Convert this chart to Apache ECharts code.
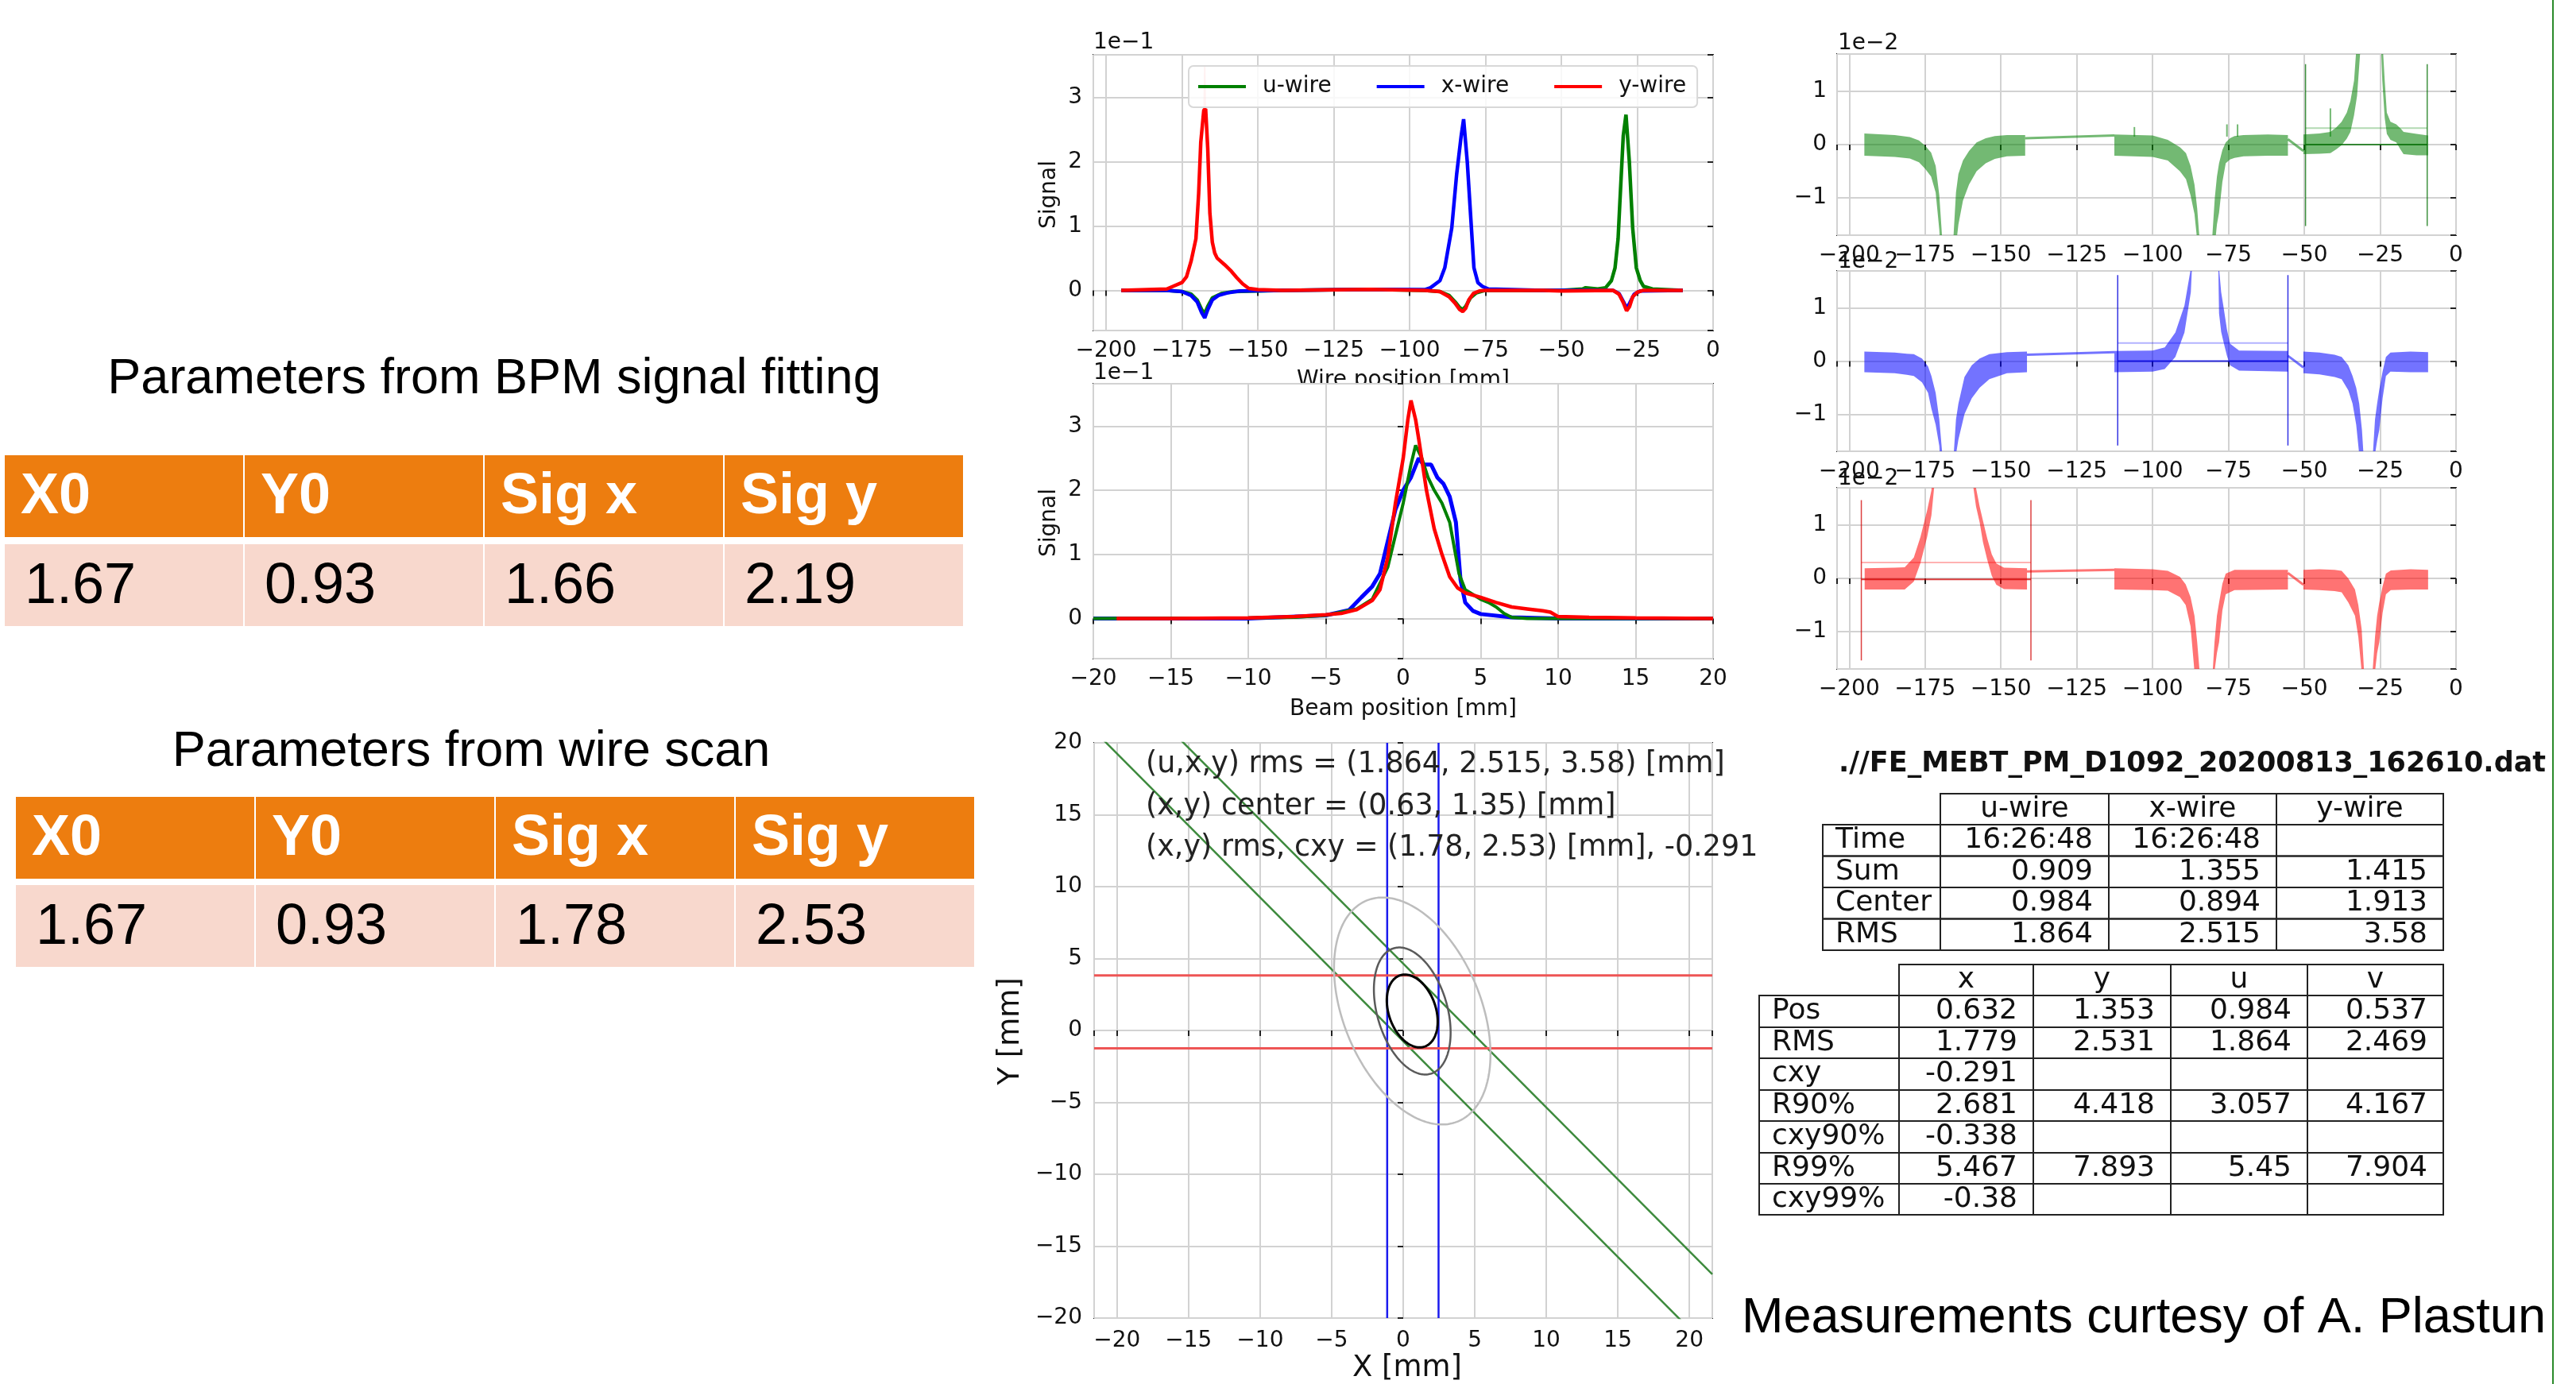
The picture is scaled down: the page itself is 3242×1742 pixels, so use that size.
<!DOCTYPE html>
<html><head><meta charset="utf-8">
<script src="https://cdn.jsdelivr.net/npm/echarts@6/dist/echarts.min.js"></script>
<style>html,body{margin:0;padding:0;background:#fff}#c{width:3242px;height:1742px}</style>
</head><body><div id="c"></div>
<script>
// ---------------- DATA ----------------
// Panel 1: wire signals vs wire position [mm]
const uWireX = [-195,-180,-175,-172,-170,-168.5,-167.5,-166.5,-165,-162,-158,-142,-113,-95,-90,-87,-85,-83.5,-82.5,-81.5,-80,-78,-75,-56,-50,-43,-42,-38,-35.4,-33.5,-32.3,-31.3,-30.7,-29.6,-28.7,-27.6,-26.5,-25.3,-24,-22.9,-20,-10];
const uWireY = [0,0,-0.002,-0.006,-0.015,-0.03,-0.036,-0.025,-0.012,-0.005,-0.002,0,0.0015,0,-0.002,-0.008,-0.018,-0.027,-0.03,-0.025,-0.012,-0.004,0,0,0,0.002,0.004,0.002,0.004,0.015,0.035,0.08,0.138,0.24,0.273,0.2,0.097,0.035,0.015,0.006,0.002,0];
const xWireX = [-195,-180,-175,-172,-170,-168.5,-167.5,-166.5,-165,-163,-160,-156,-142,-113,-95,-93.1,-90,-88.4,-86.1,-84.5,-83,-82.2,-81,-79.9,-78.8,-77.5,-76,-74,-56,-50,-33,-31,-29.5,-28.5,-27.5,-26,-24,-10];
const xWireY = [0,0,-0.002,-0.008,-0.018,-0.035,-0.043,-0.03,-0.015,-0.008,-0.004,-0.001,0,0.0015,0.001,0.004,0.015,0.035,0.097,0.18,0.24,0.266,0.2,0.117,0.035,0.012,0.006,0.002,0,0,0,-0.005,-0.018,-0.028,-0.02,-0.006,-0.001,0];
const yWireX = [-195,-180,-178,-175,-173.5,-172,-170.4,-169.5,-168.8,-167.8,-167.2,-166.5,-165.8,-165,-164.2,-163.4,-161,-159,-157,-155,-153,-150,-142,-113,-95,-90,-87,-85,-83.5,-82.5,-81.5,-80.5,-79,-77,-75,-56,-50,-33,-31,-29.5,-28.5,-27.5,-26.5,-25,-23,-10];
const yWireY = [0,0.002,0.006,0.012,0.021,0.045,0.08,0.15,0.23,0.28,0.282,0.22,0.12,0.075,0.058,0.05,0.04,0.031,0.02,0.01,0.003,0.001,0,0.0015,0,-0.002,-0.01,-0.02,-0.03,-0.033,-0.028,-0.015,-0.005,-0.001,0,0,-0.001,0,-0.006,-0.02,-0.032,-0.025,-0.01,-0.003,0,0];
const yWireSpikeX = [-167.7, -167.5, -167.3];
const yWireSpikeY = [0.28, 0.35, 0.28];

// Panel 2: signals vs beam position [mm]
const beamUX = [-20,-10,-7,-5,-3,-2,-1,-0.5,0,0.5,0.8,1.2,1.6,2,2.5,3,3.3,3.6,4,5,5.5,6,6.5,7,8,20];
const beamUY = [0,0.001,0.002,0.005,0.015,0.03,0.08,0.13,0.18,0.24,0.27,0.25,0.22,0.2,0.18,0.15,0.11,0.07,0.045,0.03,0.025,0.018,0.008,0.002,0,0];
const beamXX = [-20,-10,-5,-3.5,-2.7,-2,-1.5,-1,-0.5,0,0.5,1,1.3,1.8,2.2,2.6,3,3.4,3.7,4,4.5,5,7,10,20];
const beamXY = [0,0,0.005,0.013,0.033,0.05,0.07,0.12,0.17,0.2,0.22,0.25,0.24,0.24,0.22,0.21,0.19,0.15,0.06,0.025,0.012,0.007,0.002,0,0];
const beamYX = [-18.5,-15,-10,-7,-5,-4,-3,-2,-1.5,-1,-0.5,0,0.3,0.5,0.8,1.0,1.5,2,2.5,3,3.5,4,5,6,7,8,9,9.5,10,12,15,20];
const beamYY = [0,0,0.001,0.003,0.006,0.008,0.014,0.028,0.045,0.095,0.18,0.25,0.31,0.34,0.31,0.28,0.2,0.14,0.1,0.065,0.048,0.04,0.033,0.025,0.018,0.015,0.012,0.01,0.003,0.002,0.001,0];

// Panel 3: reconstructed beam ellipses [mm]
const xWirePositions = [-1.12, 2.47];      // vertical lines x = const
const yWirePositions = [3.83, -1.24];      // horizontal lines y = const
const uWireOffsets = [-0.75, 4.65];        // diagonal lines y = -x + c
const ellipseCenter = [0.632, 1.353];
const ellipseRx = [5.467, 2.681, 1.779];
const ellipseRy = [7.893, 4.418, 2.531];
const ellipseCxy = [-0.38, -0.338, -0.291];
const ellipseNotes = ['(u,x,y) rms = (1.864, 2.515, 3.58) [mm]', '(x,y) center = (0.63, 1.35) [mm]', '(x,y) rms, cxy = (1.78, 2.53) [mm], -0.291'];

// Right panels: zoomed signal bands (upper / lower envelope), three scan segments each
const uBandX = [
  [-195,-185,-180,-177,-175,-173,-171.5,-170.3,-169.3,-168.3,-167.3,-166.3,-165.6,-164.8,-164,-162.5,-160.5,-158,-155,-152,-148,-142],
  [-112.6,-100,-95,-91,-89,-87.5,-86.2,-85.3,-84.5,-83.5,-82.3,-81.2,-80.3,-79.5,-78.8,-78.1,-77,-75.9,-74.5,-73,-70,-62,-55.4],
  [-50.3,-45,-41.4,-39.5,-37.7,-36,-34.8,-33.6,-32.6,-31.5,-30,-28.7,-27.3,-25.5,-24.3,-23.5,-22.8,-21.6,-19.7,-18.2,-17.3,-13,-9.2]];
const uBandHi = [
  [0.0021,0.0018,0.0014,0.0008,-0.0002,-0.0015,-0.004,-0.0095,-0.018,-0.03,-0.04,-0.03,-0.017,-0.009,-0.0055,-0.003,-0.0012,0.0004,0.0012,0.0016,0.0018,0.0018],
  [0.0019,0.0017,0.0009,-0.0005,-0.0016,-0.004,-0.0075,-0.012,-0.018,-0.03,-0.04,-0.03,-0.017,-0.01,-0.006,-0.0035,-0.001,0.0004,0.0012,0.0016,0.0018,0.0019,0.0018],
  [0.0019,0.0021,0.0024,0.0032,0.0043,0.006,0.0082,0.012,0.02,0.04,0.12,0.27,0.15,0.05,0.02,0.012,0.006,0.0043,0.0038,0.003,0.0024,0.002,0.0017]];
const uBandLo = [
  [-0.0021,-0.0023,-0.0026,-0.0033,-0.0045,-0.006,-0.009,-0.016,-0.025,-0.036,-0.045,-0.04,-0.03,-0.019,-0.015,-0.0105,-0.0075,-0.005,-0.0035,-0.0027,-0.0022,-0.0021],
  [-0.0021,-0.0023,-0.003,-0.005,-0.0065,-0.0095,-0.013,-0.018,-0.025,-0.036,-0.045,-0.04,-0.03,-0.019,-0.015,-0.0128,-0.007,-0.0035,-0.0028,-0.0025,-0.0022,-0.0021,-0.0021],
  [-0.0018,-0.0017,-0.0016,-0.0009,-0.0001,0.0011,0.0024,0.0055,0.0092,0.018,0.08,0.24,0.12,0.03,0.012,0.005,0.002,0.0009,0.0004,-0.001,-0.0018,-0.002,-0.002]];
const uSpikeX = [-106, -75.5, -72, -41.4];
const uSpikeTop = [0.0033, 0.0038, 0.0038, 0.0068];

const xBandX = [
  [-195,-185,-181,-178.7,-176,-174,-172.9,-171.5,-170.3,-169.3,-168.3,-167.3,-166.3,-165.6,-164.8,-164,-162,-159.6,-157,-153.8,-148,-141.4],
  [-112.6,-100,-96,-92.5,-89.5,-87.4,-86,-84.5,-82.2,-81,-79.8,-78.1,-77.4,-76.7,-75.5,-74.5,-71.5,-55.4],
  [-50.3,-45,-40,-37.7,-35.5,-34.1,-32.9,-31.9,-31,-30,-28.6,-27.4,-26.7,-26,-25.3,-24.2,-23.1,-21.6,-15,-9.2]];
const xBandHi = [
  [0.0018,0.0016,0.0014,0.0013,0.0005,-0.001,-0.0028,-0.006,-0.011,-0.0176,-0.03,-0.04,-0.03,-0.018,-0.011,-0.008,-0.003,-0.0008,0.0005,0.0013,0.0017,0.0018],
  [0.0019,0.002,0.0026,0.0054,0.0105,0.0175,0.04,0.18,0.265,0.2,0.1,0.0175,0.013,0.0105,0.006,0.0033,0.002,0.0019],
  [0.0018,0.0016,0.0012,0.0008,-0.0008,-0.0028,-0.005,-0.008,-0.013,-0.022,-0.032,-0.0175,-0.011,-0.008,-0.0054,-0.002,0.0008,0.0016,0.0018,0.0017]];
const xBandLo = [
  [-0.0021,-0.0023,-0.0026,-0.0028,-0.004,-0.006,-0.009,-0.012,-0.016,-0.025,-0.036,-0.045,-0.04,-0.03,-0.0176,-0.0148,-0.01,-0.007,-0.005,-0.0034,-0.0023,-0.0021],
  [-0.0021,-0.002,-0.0015,0.0008,0.0054,0.013,0.03,0.16,0.24,0.17,0.07,0.009,0.0055,0.0038,0.001,-0.0008,-0.0018,-0.002],
  [-0.0023,-0.0025,-0.003,-0.0034,-0.0055,-0.008,-0.012,-0.0176,-0.025,-0.035,-0.04,-0.03,-0.0176,-0.015,-0.013,-0.007,-0.0028,-0.002,-0.0021,-0.0021]];

const yBandX = [
  [-194.9,-185,-181.7,-178.7,-176.5,-174.3,-172.9,-171.5,-170,-167.5,-165,-163,-161,-158.2,-157,-155.9,-154.5,-153,-151.5,-149,-141.4],
  [-112.6,-100,-95,-91,-89.1,-87.5,-86.2,-85.3,-84.5,-83,-82,-81,-80.2,-79.6,-78.8,-78.1,-77,-75.9,-73,-55.4],
  [-50.3,-45,-40,-37.7,-35.5,-33.3,-32.2,-31.1,-30.3,-29.5,-28.5,-27.5,-26.7,-26,-25.3,-24.2,-23.1,-21.5,-15,-9.2]];
const yBandHi = [
  [0.0019,0.002,0.0021,0.0039,0.0078,0.0128,0.0165,0.03,0.15,0.285,0.1,0.05,0.035,0.017,0.0135,0.0108,0.0075,0.0045,0.0028,0.002,0.0019],
  [0.0019,0.0017,0.0014,0.0003,-0.0011,-0.0035,-0.007,-0.012,-0.0175,-0.03,-0.035,-0.03,-0.0175,-0.012,-0.007,-0.0046,-0.001,0.0009,0.0016,0.0016],
  [0.0016,0.0017,0.0016,0.0014,0.0,-0.0021,-0.005,-0.0095,-0.0175,-0.025,-0.03,-0.0175,-0.011,-0.007,-0.0046,-0.0015,0.0009,0.0015,0.0017,0.0016]];
const yBandLo = [
  [-0.0021,-0.0021,-0.0021,-0.0006,0.0029,0.0078,0.0118,0.02,0.12,0.27,0.08,0.04,0.025,0.0135,0.0105,0.0068,0.0035,0.0005,-0.0012,-0.002,-0.0021],
  [-0.0021,-0.0022,-0.0023,-0.0035,-0.005,-0.009,-0.0175,-0.025,-0.03,-0.038,-0.04,-0.038,-0.03,-0.0175,-0.014,-0.012,-0.006,-0.003,-0.0022,-0.0021],
  [-0.0021,-0.0022,-0.0024,-0.0026,-0.0045,-0.007,-0.011,-0.0175,-0.025,-0.032,-0.038,-0.03,-0.0175,-0.014,-0.012,-0.0065,-0.003,-0.0022,-0.0021,-0.0021]];

// straight joins between scan segments
const uLinks = [[[-142,0.0012],[-112.6,0.0017]], [[-55.4,0.001],[-50.3,-0.0012]]];
const xLinks = [[[-141.4,0.0012],[-112.6,0.0017]], [[-55.4,0.001],[-50.3,-0.0012]]];
const yLinks = [[[-141.4,0.0013],[-112.6,0.0016]], [[-55.4,0.001],[-50.3,-0.0012]]];
// integration window markers (vertical x, vertical y-range, baseline levels)
const uWinX = [-49.6, -9.5], uWinY = [-0.0153, 0.0151], uBase = [0, 0.0031];
const xWinX = [-111.5, -55.4], xWinY = [-0.0159, 0.0162], xBase = [0, 0.0034];
const yWinX = [-196, -140.1], yWinY = [-0.0154, 0.0147], yBase = [-0.0002, 0.003];

// Tables
const fitHeaders = ['X0', 'Y0', 'Sig x', 'Sig y'];
const bpmFitValues = ['1.67', '0.93', '1.66', '2.19'];
const wireScanValues = ['1.67', '0.93', '1.78', '2.53'];
const fileTitle = './/FE_MEBT_PM_D1092_20200813_162610.dat';
const wireCols = ['u-wire', 'x-wire', 'y-wire'];
const wireRowLabels = ['Time', 'Sum', 'Center', 'RMS'];
const wireRows = [['16:26:48', '16:26:48', ''], ['0.909', '1.355', '1.415'], ['0.984', '0.894', '1.913'], ['1.864', '2.515', '3.58']];
const momCols = ['x', 'y', 'u', 'v'];
const momRowLabels = ['Pos', 'RMS', 'cxy', 'R90%', 'cxy90%', 'R99%', 'cxy99%'];
const momRows = [['0.632', '1.353', '0.984', '0.537'], ['1.779', '2.531', '1.864', '2.469'], ['-0.291', '', '', ''],
  ['2.681', '4.418', '3.057', '4.167'], ['-0.338', '', '', ''], ['5.467', '7.893', '5.45', '7.904'], ['-0.38', '', '', '']];

// ---------------- CHART ----------------
const FONT = 'DejaVu Sans';
const SANS = 'Liberation Sans';
const zip = (xs, ys) => xs.map((x, i) => [x, ys[i]]);

function fmtTick(step, scale) {
  return function (v) {
    const k = v / step;
    if (Math.abs(k - Math.round(k)) > 1e-6) return '';
    const n = Math.round(v * scale * 1e6) / 1e6;
    return String(n).replace('-', '\u2212');
  };
}
function axis(gridIndex, min, max, step, scale, fontSize, margin) {
  return {
    type: 'value', gridIndex, min, max, minInterval: step, maxInterval: step,
    axisLine: { show: false },
    axisTick: { show: true, inside: false, length: 7, lineStyle: { color: '#222', width: 2 } },
    axisLabel: { formatter: fmtTick(step, scale), fontFamily: FONT, fontSize, color: '#111', margin },
    splitLine: { show: true, lineStyle: { color: '#d2d2d2', width: 2 } }
  };
}
const gridBase = { show: true, borderColor: '#222', borderWidth: 2, backgroundColor: '#fff', containLabel: false };
const grids = [
  Object.assign({ left: 1376, top: 69, width: 780, height: 347 }, gridBase),
  Object.assign({ left: 1376, top: 483, width: 780, height: 346 }, gridBase),
  Object.assign({ left: 1377, top: 935, width: 778, height: 724 }, gridBase),
  Object.assign({ left: 2312, top: 68, width: 779, height: 228 }, gridBase),
  Object.assign({ left: 2312, top: 341, width: 779, height: 227 }, gridBase),
  Object.assign({ left: 2312, top: 614, width: 779, height: 228 }, gridBase)
];
const xAxes = [
  axis(0, -204.2, 0, 25, 1, 28, 12),
  axis(1, -20, 20, 5, 1, 28, 12),
  axis(2, -21.6, 21.6, 5, 1, 28, 15),
  axis(3, -204, 0, 25, 1, 28, 12),
  axis(4, -204, 0, 25, 1, 28, 12),
  axis(5, -204, 0, 25, 1, 28, 12)
];
const yAxes = [
  axis(0, -0.0625, 0.366, 0.1, 10, 28, 14),
  axis(1, -0.0625, 0.366, 0.1, 10, 28, 14),
  axis(2, -20, 20, 5, 1, 28, 15),
  axis(3, -0.017, 0.017, 0.01, 100, 28, 13),
  axis(4, -0.017, 0.017, 0.01, 100, 28, 13),
  axis(5, -0.017, 0.017, 0.01, 100, 28, 13)
];

const series = [];
function line(g, name, data, color, width, z) {
  series.push({ type: 'line', name, xAxisIndex: g, yAxisIndex: g, data, symbol: 'none', showSymbol: false,
    lineStyle: { color, width }, itemStyle: { color }, z: z || 2, silent: true, animation: false });
}
// panel 1
line(0, 'u-wire', zip(uWireX, uWireY), '#008000', 4.5);
line(0, 'x-wire', zip(xWireX, xWireY), '#0000ff', 4.5);
line(0, 'y-wire spike', zip(yWireSpikeX, yWireSpikeY), 'rgba(255,0,0,0.35)', 2);
line(0, 'y-wire', zip(yWireX, yWireY), '#ff0000', 4.5);
// panel 2
line(1, 'x-beam', zip(beamXX, beamXY), '#0000ff', 5);
line(1, 'u-beam', zip(beamUX, beamUY), '#008000', 4);
line(1, 'y-beam', zip(beamYX, beamYY), '#ff0000', 4.5);
// panel 3 lines
uWireOffsets.forEach((c, i) => line(2, 'u' + i, [[-21.6, 21.6 + c], [21.6, -21.6 + c]], '#3d8a3d', 2.5));
xWirePositions.forEach((x, i) => line(2, 'xl' + i, [[x, -20], [x, 20]], '#1a1aee', 2.5));
yWirePositions.forEach((y, i) => line(2, 'yl' + i, [[-21.6, y], [21.6, y]], '#ee5555', 3));
const ellColors = ['#bdbdbd', '#5a5a5a', '#000000'];
const ellWidths = [2.5, 2.5, 3];
series.push({
  type: 'custom', xAxisIndex: 2, yAxisIndex: 2, clip: true, silent: true, z: 5,
  data: ellipseRx.map(() => ellipseCenter.slice()),
  renderItem: function (params, api) {
    const i = params.dataIndex;
    const sx = ellipseRx[i], sy = ellipseRy[i], c = ellipseCxy[i];
    const r = Math.sqrt(1 - c * c);
    const pts = [];
    for (let k = 0; k <= 240; k++) {
      const t = k / 240 * 2 * Math.PI;
      pts.push(api.coord([ellipseCenter[0] + sx * Math.cos(t), ellipseCenter[1] + sy * (c * Math.cos(t) + r * Math.sin(t))]));
    }
    return { type: 'polyline', shape: { points: pts }, style: { stroke: ellColors[i], lineWidth: ellWidths[i], fill: 'none' } };
  }
});
// right panels
function band(g, bx, bh, bl, color) {
  series.push({
    type: 'custom', xAxisIndex: g, yAxisIndex: g, clip: true, silent: true, z: 2,
    data: bx.map(xs => [xs[0], 0]),
    renderItem: function (params, api) {
      const i = params.dataIndex;
      const xs = bx[i], hi = bh[i], lo = bl[i];
      const pts = [];
      for (let k = 0; k < xs.length; k++) pts.push(api.coord([xs[k], hi[k]]));
      for (let k = xs.length - 1; k >= 0; k--) pts.push(api.coord([xs[k], lo[k]]));
      return { type: 'polygon', shape: { points: pts }, style: { fill: color } };
    }
  });
}
function windowLines(g, winX, winY, base, links, dark, light, bandColor) {
  links.forEach((l, i) => line(g, 'lk' + g + i, l, bandColor, 3, 3));
  winX.forEach((x, i) => line(g, 'wv' + g + i, [[x, winY[0]], [x, winY[1]]], dark, 1.5, 4));
  line(g, 'b0' + g, [[winX[0], base[0]], [winX[1], base[0]]], dark, 2, 4);
  line(g, 'b1' + g, [[winX[0], base[1]], [winX[1], base[1]]], light, 2, 4);
}
band(3, uBandX, uBandHi, uBandLo, 'rgba(0,128,0,0.55)');
uSpikeX.forEach((x, i) => line(3, 'us' + i, [[x, 0.0015], [x, uSpikeTop[i]]], 'rgba(0,128,0,0.55)', 2, 3));
windowLines(3, uWinX, uWinY, uBase, uLinks, 'rgba(0,110,0,0.75)', 'rgba(0,128,0,0.3)', 'rgba(0,128,0,0.55)');
band(4, xBandX, xBandHi, xBandLo, 'rgba(0,0,255,0.55)');
windowLines(4, xWinX, xWinY, xBase, xLinks, 'rgba(0,0,220,0.8)', 'rgba(0,0,255,0.3)', 'rgba(0,0,255,0.55)');
band(5, yBandX, yBandHi, yBandLo, 'rgba(255,0,0,0.55)');
windowLines(5, yWinX, yWinY, yBase, yLinks, 'rgba(210,0,0,0.75)', 'rgba(255,0,0,0.3)', 'rgba(255,0,0,0.55)');

// ---------------- GRAPHICS (texts, tables) ----------------
const G = [];
function txt(x, y, s, style, extra) {
  G.push(Object.assign({ type: 'text', x, y, silent: true,
    style: Object.assign({ text: s, fontFamily: FONT, fontSize: 28, fill: '#111', align: 'left', verticalAlign: 'middle' }, style || {}) }, extra || {}));
}
function rect(x, y, w, h, style, extra) {
  G.push(Object.assign({ type: 'rect', silent: true, shape: { x, y, width: w, height: h }, style }, extra || {}));
}
// plot texts
txt(1376, 54, '1e\u22121');
txt(1376, 470, '1e\u22121');
txt(1321, 245, 'Signal', { align: 'center' }, { rotation: Math.PI / 2 });
txt(1321, 658, 'Signal', { align: 'center' }, { rotation: Math.PI / 2 });
txt(1766, 479, 'Wire position [mm]', { align: 'center' }, { z: -5 });
txt(1766, 893, 'Beam position [mm]', { align: 'center' });
txt(1771, 1722, 'X [mm]', { align: 'center', fontSize: 37 });
txt(1272, 1298, 'Y [mm]', { align: 'center', fontSize: 37 }, { rotation: Math.PI / 2 });
ellipseNotes.forEach((s, i) => txt(1442, 963 + i * 52.5, s, { fontSize: 36.5, fill: '#222' }, { z: 10 }));
txt(2313, 55, '1e\u22122');
txt(2313, 330, '1e\u22122');
txt(2313, 603, '1e\u22122');

// left tables
const ORANGE = '#ED7D0F', PINK = '#F8D8CD';
function fitTable(x0, yH, yD, title, titleX, titleY, values) {
  txt(titleX, titleY, title, { fontFamily: SANS, fontSize: 63, fill: '#000', align: 'center' });
  for (let i = 0; i < 4; i++) {
    const x = x0 + i * 302;
    rect(x, yH, 300, 103, { fill: ORANGE });
    rect(x, yD, 300, 103, { fill: PINK });
    txt(x + 20, yH + 53, fitHeaders[i], { fontFamily: SANS, fontSize: 72, fontWeight: 'bold', fill: '#fff' });
    txt(x + 25, yD + 54, values[i], { fontFamily: SANS, fontSize: 72, fill: '#000' });
  }
}
fitTable(6, 573, 685, 'Parameters from BPM signal fitting', 622, 478, bpmFitValues);
fitTable(20, 1003, 1114, 'Parameters from wire scan', 593, 947, wireScanValues);

// right tables
txt(2314, 962, fileTitle, { fontSize: 35, fontWeight: 'bold', fill: '#111' });
function cell(x, y, w, h) { rect(x, y, w, h, { fill: 'none', stroke: '#222', lineWidth: 2 }); }
function dataTable(colEdges, rowEdges, cols, labels, rows) {
  for (let c = 0; c < cols.length; c++) {
    const x = colEdges[c + 1], w = colEdges[c + 2] - x;
    cell(x, rowEdges[0], w, rowEdges[1] - rowEdges[0]);
    txt(x + w / 2, (rowEdges[0] + rowEdges[1]) / 2, cols[c], { fontSize: 36, align: 'center' });
  }
  for (let r = 0; r < labels.length; r++) {
    const y = rowEdges[r + 1], h = rowEdges[r + 2] - y, yc = y + h / 2;
    cell(colEdges[0], y, colEdges[1] - colEdges[0], h);
    txt(colEdges[0] + 16, yc, labels[r], { fontSize: 36 });
    for (let c = 0; c < cols.length; c++) {
      const x = colEdges[c + 1], w = colEdges[c + 2] - x;
      cell(x, y, w, h);
      if (rows[r][c]) txt(x + w - 20, yc, rows[r][c], { fontSize: 36, align: 'right' });
    }
  }
}
dataTable([2294, 2442, 2654, 2865, 3075], [999, 1038, 1077.5, 1117, 1156.5, 1196], wireCols, wireRowLabels, wireRows);
dataTable([2214, 2390, 2559, 2732, 2904, 3075], [1214, 1253, 1293, 1332, 1372, 1411, 1451, 1490, 1529], momCols, momRowLabels, momRows);

txt(2192, 1660, 'Measurements curtesy of A. Plastun', { fontFamily: SANS, fontSize: 63, fill: '#000' });
G.push({ type: 'line', silent: true, shape: { x1: 3213, y1: 0, x2: 3213, y2: 1742 }, style: { stroke: '#2a8a2a', lineWidth: 2 } });

const chart = echarts.init(document.getElementById('c'), null, { renderer: 'canvas', width: 3242, height: 1742 });
chart.setOption({
  animation: false,
  backgroundColor: '#fff',
  grid: grids,
  xAxis: xAxes,
  yAxis: yAxes,
  legend: {
    data: ['u-wire', 'x-wire', 'y-wire'], left: 1496, top: 83, orient: 'horizontal',
    icon: 'rect', itemWidth: 60, itemHeight: 4, itemGap: 57,
    padding: [12, 14, 12, 12],
    textStyle: { fontFamily: FONT, fontSize: 28, color: '#111', padding: [0, 0, 0, 16] },
    backgroundColor: 'rgba(255,255,255,0.85)', borderColor: '#d8d8d8', borderWidth: 2, borderRadius: 6,
    selectedMode: false, z: 20
  },
  series,
  graphic: { elements: G }
});
</script></body></html>
